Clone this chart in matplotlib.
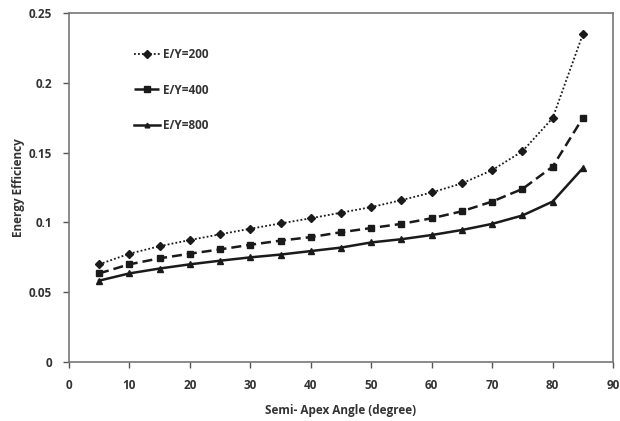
import matplotlib
matplotlib.use("Agg")
import matplotlib.pyplot as plt

angles = [5, 10, 15, 20, 25, 30, 35, 40, 45, 50, 55, 60, 65, 70, 75, 80, 85]
ey200 = [0.070, 0.0776, 0.083, 0.0874, 0.0915, 0.0955, 0.0993, 0.103, 0.107,
         0.111, 0.116, 0.1215, 0.128, 0.1375, 0.151, 0.1748, 0.235]
ey400 = [0.0635, 0.070, 0.0743, 0.0776, 0.0807, 0.084, 0.087, 0.0895, 0.093,
         0.096, 0.099, 0.103, 0.108, 0.115, 0.124, 0.140, 0.175]
ey800 = [0.0583, 0.0635, 0.067, 0.070, 0.0726, 0.075, 0.077, 0.0795, 0.082,
         0.0857, 0.088, 0.091, 0.0946, 0.099, 0.105, 0.115, 0.139]
labels = ["E/Y=200", "E/Y=400", "E/Y=800"]

plt.rcParams['font.family'] = ['Open Sans', 'DejaVu Sans']
txt = "#333333"

fig = plt.figure(figsize=(6.2, 4.21), dpi=100)
ax = fig.add_axes([0.111, 0.140, 0.878, 0.829])

ax.plot(angles, ey200, color="#1a1a1a", linestyle=(0, (1, 1.2)), linewidth=1.3,
        marker="D", markersize=4.5, label=labels[0])
ax.plot(angles, ey400, color="#1a1a1a", linestyle=(0, (4, 2)), linewidth=1.8,
        marker="s", markersize=4.5, label=labels[1])
ax.plot(angles, ey800, color="#1a1a1a", linestyle="-", linewidth=1.8,
        marker="^", markersize=4, label=labels[2])

ax.set_xlim(0, 90)
ax.set_ylim(0, 0.25)
ax.set_xticks(range(0, 91, 10))
ax.set_yticks([0, 0.05, 0.1, 0.15, 0.2, 0.25])
ax.set_yticklabels(["0", "0.05", "0.1", "0.15", "0.2", "0.25"])
ax.tick_params(direction="out", length=4, width=1, colors="#555555",
               labelcolor=txt, labelsize=8.5, pad=8)
for lab in ax.get_xticklabels() + ax.get_yticklabels():
    lab.set_fontweight("bold")
for s in ax.spines.values():
    s.set_color("#777777")
    s.set_linewidth(1.2)

ax.set_xlabel("Semi- Apex Angle (degree)", fontsize=8.5, fontweight="bold",
              color=txt, labelpad=9)
ax.set_ylabel("Energy Efficiency", fontsize=8.5, fontweight="bold",
              color=txt, labelpad=3)

leg = ax.legend(loc="upper left", bbox_to_anchor=(0.1, 0.93), frameon=False,
                labelspacing=1.9, handlelength=2.2, handletextpad=0.3,
                markerscale=0.85, prop={"size": 8.5, "weight": "bold"})
for t in leg.get_texts():
    t.set_color(txt)

fig.savefig("out.png", dpi=100)
